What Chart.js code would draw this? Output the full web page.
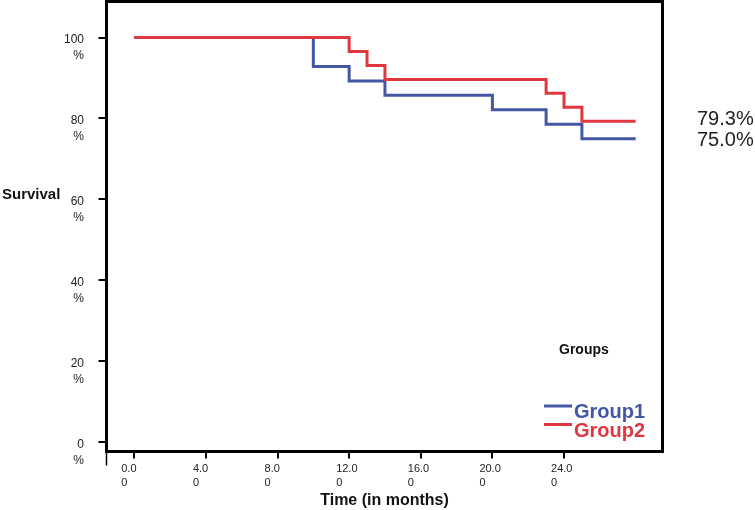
<!DOCTYPE html>
<html><head><meta charset="utf-8">
<script src="https://cdn.jsdelivr.net/npm/chart.js@4/dist/chart.umd.min.js"></script>
<style>html,body{margin:0;padding:0;background:#fff;} canvas{display:block;}</style>
</head><body>
<canvas id="c" width="755" height="510"></canvas>
<script>
const groupNames = ['Group1', 'Group2'];
const timesG1 = [0, 10, 12, 14, 20, 23, 25, 28];
const survG1  = [100, 92.86, 89.29, 85.71, 82.14, 78.57, 75.0, 75.0];
const timesG2 = [0, 12, 13, 14, 23, 24, 25, 28];
const survG2  = [100, 96.55, 93.10, 89.66, 86.21, 82.76, 79.31, 79.31];
const xTickValues = [0, 4, 8, 12, 16, 20, 24];
const xTickLabels = ['0.00', '4.00', '8.00', '12.00', '16.00', '20.00', '24.00'];
const yTickValues = [0, 20, 40, 60, 80, 100];
const yTickLabels = ['0 %', '20 %', '40 %', '60 %', '80 %', '100 %'];
const colors = ['#4357A5', '#E0373F'];
const FONT = "'Liberation Sans', Arial, Helvetica, sans-serif";

const framePlugin = {
  id: 'frame',
  afterDraw(chart) {
    const {ctx, chartArea: a} = chart;
    ctx.save();
    ctx.strokeStyle = '#000';
    ctx.lineWidth = 3;
    ctx.strokeRect(a.left, a.top, a.right - a.left, a.bottom - a.top);
    ctx.lineWidth = 1.5;
    ctx.beginPath(); ctx.moveTo(a.left, a.bottom + 1.5); ctx.lineTo(a.left, a.bottom + 14); ctx.stroke();

    ctx.textAlign = 'left';
    ctx.textBaseline = 'middle';
    ctx.fillStyle = '#111';
    ctx.font = 'bold 15px ' + FONT;
    ctx.fillText('Survival', 2, 195);
    ctx.font = 'bold 14px ' + FONT;
    ctx.fillText('Groups', 559, 350);

    chart.data.datasets.forEach((ds, i) => {
      const y = 406 + i * 18.5;
      ctx.strokeStyle = ds.borderColor;
      ctx.lineWidth = 3;
      ctx.beginPath(); ctx.moveTo(544, y); ctx.lineTo(572, y); ctx.stroke();
      ctx.fillStyle = ds.borderColor;
      ctx.font = 'bold 20px ' + FONT;
      ctx.fillText(ds.label, 574, 412 + i * 19);
    });

    ctx.fillStyle = '#222';
    ctx.font = '20px ' + FONT;
    ctx.fillText(survG2[survG2.length - 1].toFixed(1) + '%', 697, 119);
    ctx.fillText(survG1[survG1.length - 1].toFixed(1) + '%', 697, 140);
    ctx.restore();
  }
};

new Chart(document.getElementById('c'), {
  type: 'line',
  data: {
    datasets: [
      {label: groupNames[0], data: timesG1.map((t, i) => ({x: t, y: survG1[i]})),
       borderColor: colors[0], borderWidth: 3, stepped: true, pointRadius: 0, fill: false, order: 2},
      {label: groupNames[1], data: timesG2.map((t, i) => ({x: t, y: survG2[i]})),
       borderColor: colors[1], borderWidth: 3, stepped: true, pointRadius: 0, fill: false, order: 1}
    ]
  },
  options: {
    responsive: false,
    animation: false,
    events: [],
    layout: {padding: {top: 1.5, right: 92.5, bottom: 0, left: 0}},
    plugins: {legend: {display: false}, tooltip: {enabled: false}},
    scales: {
      x: {
        type: 'linear', min: -1.55, max: 29.5,
        afterBuildTicks: s => { s.ticks = xTickValues.map(v => ({value: v})); },
        afterFit: s => { s.height = 58.5; s.paddingLeft = 0; s.paddingRight = 0; },
        grid: {drawOnChartArea: false, color: '#000', lineWidth: 2, tickLength: 7},
        border: {display: false},
        ticks: {
          autoSkip: false, maxRotation: 0, minRotation: 0, align: 'start', labelOffset: -13, padding: 3,
          color: '#222', font: {family: FONT, size: 11, lineHeight: '14px'},
          callback: (v) => { const s = xTickLabels[xTickValues.indexOf(v)]; return [s.slice(0, -1), s.slice(-1)]; }
        },
        title: {display: true, text: 'Time (in months)', color: '#111',
                font: {family: FONT, size: 16, weight: 'bold', lineHeight: 1}, padding: {top: 0, bottom: 1}}
      },
      y: {
        type: 'linear', min: -2.27, max: 108.9,
        afterBuildTicks: s => { s.ticks = yTickValues.map(v => ({value: v})); },
        afterFit: s => { s.width = 106.5; s.paddingTop = 0; s.paddingBottom = 0; },
        grid: {drawOnChartArea: false, color: '#000', lineWidth: 2, tickLength: 8},
        border: {display: false},
        ticks: {
          autoSkip: false, padding: 14.5, labelOffset: 10,
          color: '#222', font: {family: FONT, size: 12, lineHeight: '16px'},
          callback: (v) => yTickLabels[yTickValues.indexOf(v)].split(' ')
        }
      }
    }
  },
  plugins: [framePlugin]
});
</script>
</body></html>
